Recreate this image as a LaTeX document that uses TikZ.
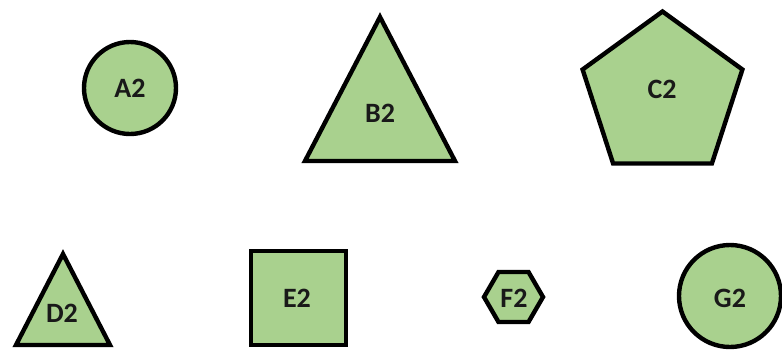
\documentclass[tikz,border=0pt]{standalone}
\usepackage{fontspec}
\setmainfont{Carlito}
\usepackage{tikz}
\definecolor{leafgreen}{HTML}{A9D18E}
\tikzset{
  figure/.style={draw=black, fill=leafgreen, line width=4.4pt, line join=miter},
  tag/.style={font=\fontsize{28}{32}\selectfont\bfseries, text=black!90}
}

\begin{document}
\begin{tikzpicture}[x=1pt, y=-1pt]
  \useasboundingbox (0,0) rectangle (782,354);

  % upper row
  \draw[figure] (130,88) circle (46);
  \draw[figure] (380,17) -- (455,161) -- (305,161) -- cycle;
  \draw[figure] (662.5,11.5) -- (742.4,69.5) -- (711.9,163.5) -- (613.1,163.5) -- (582.6,69.5) -- cycle;

  % lower row
  \draw[figure] (63,254) -- (110,345) -- (16,345) -- cycle;
  \draw[figure] (251,251) rectangle (346,345);
  \draw[figure] (484,297) -- (498.5,272) -- (528.5,272) -- (543,297) -- (528.5,322) -- (498.5,322) -- cycle;
  \draw[figure] (730,296) circle (51);

  % labels
  \node[tag] (a2) at (130,88) {A2};
  \node[tag] (b2) at (380,113) {B2};
  \node[tag] (c2) at (662,89) {C2};
  \node[tag] (d2) at (62,313) {D2};
  \node[tag] (e2) at (297,298) {E2};
  \node[tag] (f2) at (514,298) {F2};
  \node[tag] (g2) at (730,298) {G2};
\end{tikzpicture}
\end{document}
